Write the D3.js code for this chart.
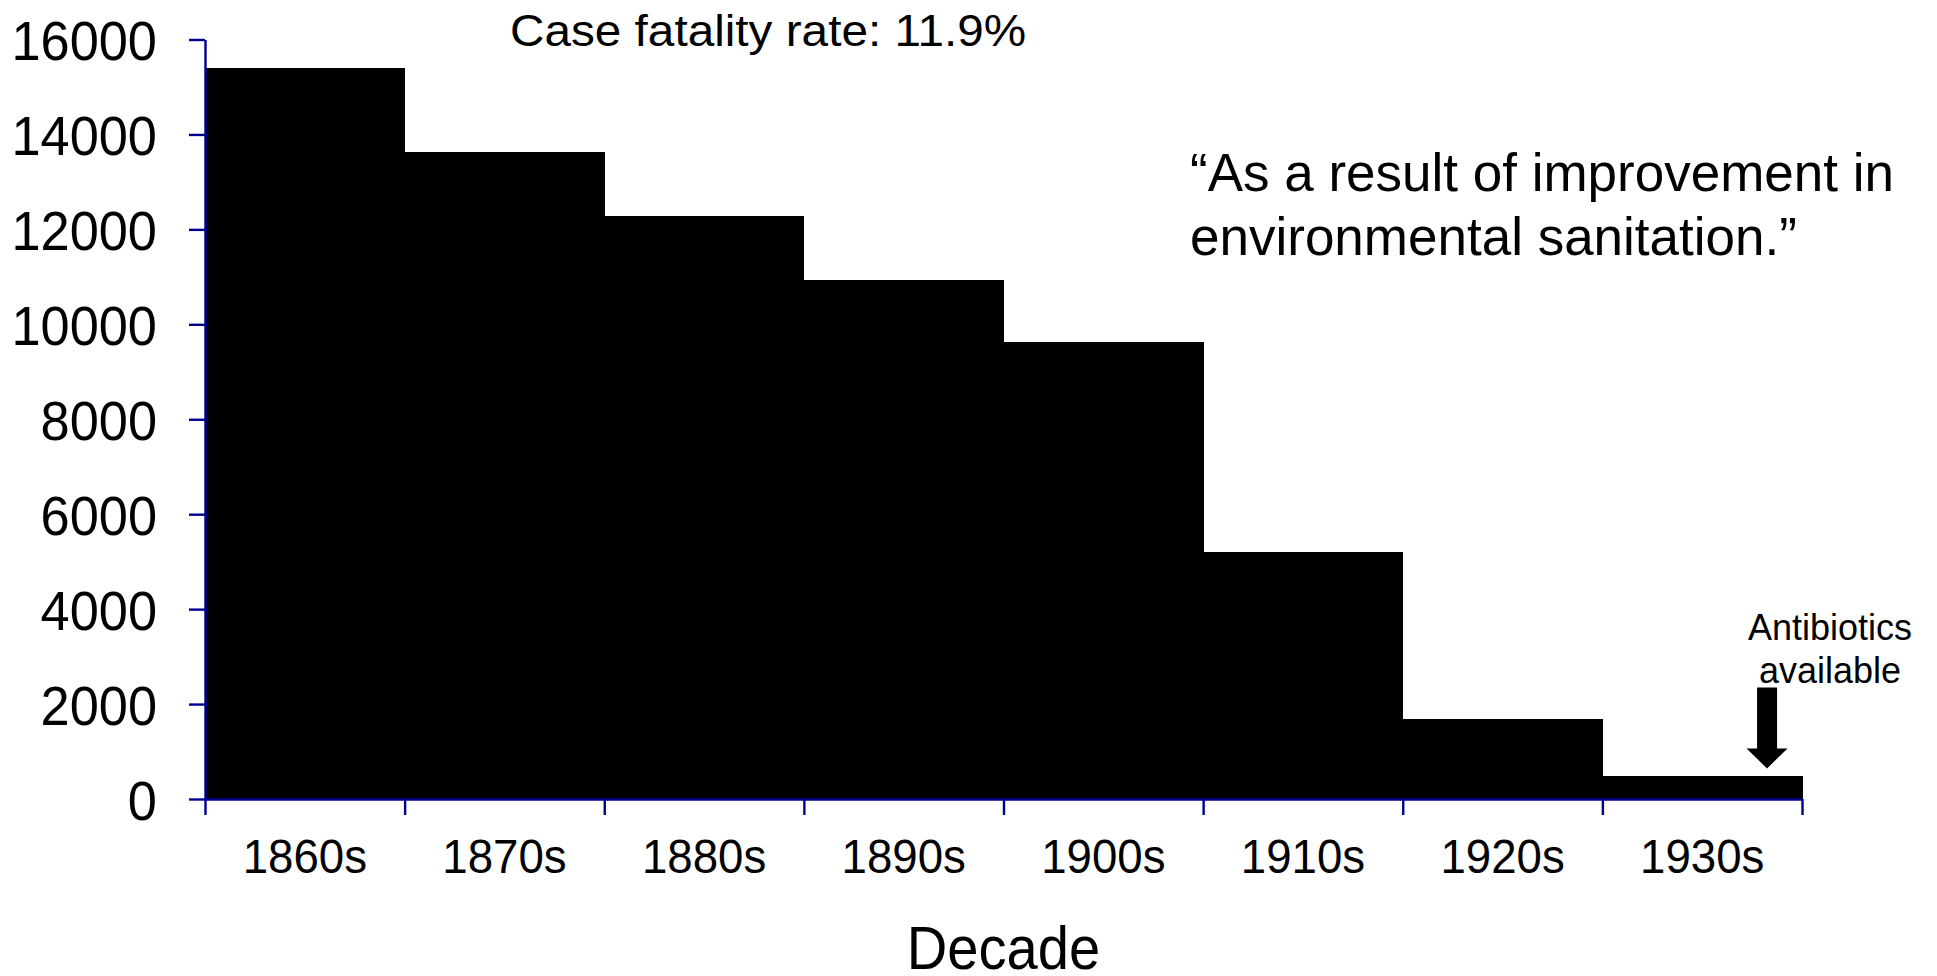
<!DOCTYPE html>
<html>
<head>
<meta charset="utf-8">
<script src="https://cdn.jsdelivr.net/npm/d3@7"></script>
<style>
  html, body { margin: 0; padding: 0; background: #fff; }
  svg { display: block; }
  text { font-family: "Liberation Sans", Arial, Helvetica, sans-serif; fill: #000; }
</style>
</head>
<body>
<svg id="chart" width="1937" height="976"></svg>
<script>
// Deaths per decade
const decades = ["1860s", "1870s", "1880s", "1890s", "1900s", "1910s", "1920s", "1930s"];
const deaths  = [15400, 13630, 12280, 10930, 9620, 5200, 1690, 475];
const yTicks  = [0, 2000, 4000, 6000, 8000, 10000, 12000, 14000, 16000];

const rateNote   = "Case fatality rate: 11.9%";
const quoteLines = ["\u201CAs a result of improvement in", "environmental sanitation.\u201D"];
const abxLines   = ["Antibiotics", "available"];
const abxDecade  = "1930s";
const xTitle     = "Decade";

const W = 1937, H = 976;
const m = { left: 205, right: 135, top: 39.5, bottom: 177 };
const axisColor = "#000090";

const svg = d3.select("#chart");

const x = d3.scaleBand().domain(decades).range([m.left, W - m.right]).paddingInner(0).paddingOuter(0);
const xEdge = d3.scaleLinear().domain([0, decades.length]).range([m.left, W - m.right]);
const y = d3.scaleLinear().domain([0, 16000]).range([H - m.bottom, m.top]);

// scale text horizontally to a given fraction of its natural width
function squeeze(sel, k) {
  sel.each(function () {
    const len = this.getComputedTextLength();
    d3.select(this).attr("textLength", len * k).attr("lengthAdjust", "spacingAndGlyphs");
  });
}

// bars: contiguous black columns
svg.append("g")
  .attr("shape-rendering", "crispEdges")
  .selectAll("rect")
  .data(decades.map((d, i) => ({ d, v: deaths[i] })))
  .join("rect")
  .attr("x", p => x(p.d))
  .attr("width", x.bandwidth() + 0.5)
  .attr("y", p => y(p.v))
  .attr("height", p => y(0) - y(p.v))
  .attr("fill", "#000");

// y axis
const gy = svg.append("g")
  .attr("transform", `translate(${m.left},0)`)
  .call(d3.axisLeft(y).tickValues(yTicks).tickFormat(d3.format("d")).tickSize(16).tickSizeOuter(0).tickPadding(32));
gy.selectAll("path, line").attr("stroke", axisColor).attr("stroke-width", 2.4);
gy.selectAll("text").attr("font-size", 56).attr("dy", "0.36em").attr("fill", "#000").call(squeeze, 0.935);

// x axis: edge ticks
const gxe = svg.append("g")
  .attr("transform", `translate(0,${y(0)})`)
  .call(d3.axisBottom(xEdge).tickValues(d3.range(0, decades.length + 1)).tickFormat("").tickSize(16).tickSizeOuter(0));
gxe.selectAll("path, line").attr("stroke", axisColor).attr("stroke-width", 2.4);

// x axis: category labels at band centres
const gx = svg.append("g")
  .attr("transform", `translate(0,${y(0)})`)
  .call(d3.axisBottom(x).tickSize(0).tickPadding(40));
gx.select(".domain").remove();
gx.selectAll("text").attr("font-size", 48).attr("fill", "#000").call(squeeze, 0.95);

// axis title
svg.append("text")
  .attr("x", (m.left + W - m.right) / 2)
  .attr("y", 969)
  .attr("text-anchor", "middle")
  .attr("font-size", 61)
  .text(xTitle)
  .call(squeeze, 0.92);

// case fatality note
svg.append("text")
  .attr("x", 510)
  .attr("y", 46)
  .attr("font-size", 45)
  .text(rateNote)
  .call(squeeze, 1.06);

// quotation
svg.append("text")
  .attr("font-size", 53)
  .selectAll("tspan")
  .data(quoteLines)
  .join("tspan")
  .attr("x", 1190)
  .attr("y", (d, i) => 191 + i * 64)
  .text(d => d);

// antibiotics annotation with downward arrow
const abxIdx = decades.indexOf(abxDecade);
const abxX = x(abxDecade) + x.bandwidth() * 0.825;
const tipY = y(deaths[abxIdx]) - 8;
const arrow = d3.path();
arrow.moveTo(abxX - 10, tipY - 81);
arrow.lineTo(abxX + 10, tipY - 81);
arrow.lineTo(abxX + 10, tipY - 20);
arrow.lineTo(abxX + 20.5, tipY - 20);
arrow.lineTo(abxX, tipY);
arrow.lineTo(abxX - 20.5, tipY - 20);
arrow.lineTo(abxX - 10, tipY - 20);
arrow.closePath();
svg.append("path").attr("d", arrow.toString()).attr("fill", "#000");

svg.append("text")
  .attr("text-anchor", "middle")
  .attr("font-size", 36)
  .selectAll("tspan")
  .data(abxLines)
  .join("tspan")
  .attr("x", 1830)
  .attr("y", (d, i) => 640 + i * 43)
  .text(d => d);
</script>
</body>
</html>
